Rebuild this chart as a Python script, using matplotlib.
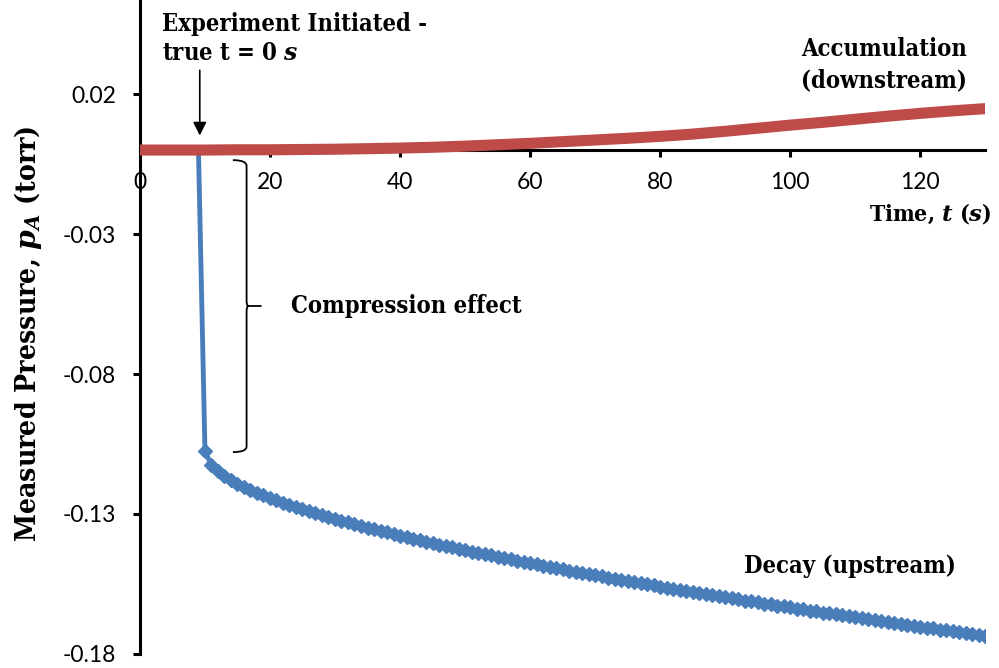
import matplotlib.pyplot as plt
from matplotlib.path import Path
from matplotlib.patches import PathPatch

plt.rcParams['mathtext.fontset'] = 'custom'
plt.rcParams['mathtext.it'] = 'DejaVu Serif:italic:bold'
plt.rcParams['mathtext.rm'] = 'DejaVu Serif:bold'

# upstream (decay) series, 1 s steps
t_up = list(range(0, 10)) + list(range(10, 131))
p_up = [0.0] * 10 + [
    -0.1075, -0.1126, -0.1148, -0.1164, -0.1179, -0.1192, -0.1203, -0.1214, -0.1224, -0.1233,
    -0.1243, -0.1251, -0.1259, -0.1268, -0.1275, -0.1283, -0.1290, -0.1297, -0.1304, -0.1311,
    -0.1317, -0.1324, -0.1330, -0.1336, -0.1343, -0.1349, -0.1354, -0.1360, -0.1366, -0.1372,
    -0.1377, -0.1383, -0.1388, -0.1393, -0.1399, -0.1404, -0.1409, -0.1414, -0.1419, -0.1424,
    -0.1429, -0.1434, -0.1439, -0.1443, -0.1448, -0.1453, -0.1457, -0.1462, -0.1467, -0.1471,
    -0.1476, -0.1480, -0.1484, -0.1489, -0.1493, -0.1498, -0.1502, -0.1506, -0.1510, -0.1515,
    -0.1519, -0.1523, -0.1527, -0.1531, -0.1535, -0.1539, -0.1543, -0.1547, -0.1551, -0.1555,
    -0.1559, -0.1563, -0.1567, -0.1571, -0.1575, -0.1579, -0.1582, -0.1586, -0.1590, -0.1594,
    -0.1597, -0.1601, -0.1605, -0.1609, -0.1612, -0.1616, -0.1620, -0.1623, -0.1627, -0.1630,
    -0.1634, -0.1638, -0.1641, -0.1645, -0.1648, -0.1652, -0.1655, -0.1659, -0.1662, -0.1666,
    -0.1669, -0.1672, -0.1676, -0.1679, -0.1683, -0.1686, -0.1689, -0.1693, -0.1696, -0.1699,
    -0.1703, -0.1706, -0.1709, -0.1713, -0.1716, -0.1719, -0.1723, -0.1726, -0.1729, -0.1732,
    -0.1736]

# downstream (accumulation) series, 5 s steps
t_down = list(range(0, 131, 5))
p_down = [0.0, 0.0, 0.0, 0.0001, 0.0001, 0.0002, 0.0003, 0.0005, 0.0007, 0.0010, 0.0014,
          0.0019, 0.0024, 0.0030, 0.0036, 0.0042, 0.0049, 0.0057, 0.0067, 0.0078, 0.0089,
          0.0099, 0.0110, 0.0121, 0.0131, 0.0140, 0.0148]

yticks = [0.02, -0.03, -0.08, -0.13, -0.18]
xticks = [0, 20, 40, 60, 80, 100, 120]

fig = plt.figure(figsize=(9.99, 6.68), dpi=100)
ax = fig.add_axes([0.1401, 0.021, 0.846, 0.979])

ax.plot(t_up, p_up, color='#4A7EBB', lw=3.5, marker='D', ms=7,
        markevery=list(range(10, len(t_up))), zorder=2)
ax.plot(t_up[:10], p_up[:10], color='#4A7EBB', lw=1.5, ls=':', zorder=2)
ax.plot(t_down, p_down, color='#BE4B48', lw=8, zorder=3)

ax.set_xlim(0, 130)
ax.set_ylim(-0.18, 0.0536)

ax.spines['top'].set_visible(False)
ax.spines['right'].set_visible(False)
ax.spines['bottom'].set_position(('data', 0))
ax.spines['left'].set_linewidth(2.2)
ax.spines['bottom'].set_linewidth(2.2)

tickfont = 'Lato'
ax.set_xticks(xticks)
ax.set_xticklabels([str(v) for v in xticks], fontfamily=tickfont, fontsize=16.5)
ax.set_yticks(yticks)
ax.set_yticklabels(['%.2f' % v for v in yticks], fontfamily=tickfont, fontsize=16.5)
ax.tick_params(axis='both', direction='out', length=5, width=2.2)
ax.tick_params(axis='x', pad=11)
ax.tick_params(axis='y', pad=12)

serif = dict(fontfamily='DejaVu Serif', fontweight='bold', fontstretch='condensed',
             color='black')

fig.text(0.028, 0.50, r'Measured Pressure, $p_A$ (torr)', rotation=90,
         ha='center', va='center', fontsize=20.3, **serif)
ax.text(130.9, -0.0227, r'Time, $t$ ($s$)', ha='right', va='center', fontsize=16.5, **serif)

ax.text(3.4, 0.0452, 'Experiment Initiated -', ha='left', va='center', fontsize=17, **serif)
ax.text(3.4, 0.0345, r'true t = 0 $s$', ha='left', va='center', fontsize=17, **serif)
ax.annotate('', xy=(9.2, 0.0042), xytext=(9.2, 0.0295),
            arrowprops=dict(arrowstyle='-|>', color='black', lw=1.2, mutation_scale=20))

ax.text(114.5, 0.0362, 'Accumulation', ha='center', va='center', fontsize=17, **serif)
ax.text(114.5, 0.0248, '(downstream)', ha='center', va='center', fontsize=17, **serif)
ax.text(109.2, -0.1487, 'Decay (upstream)', ha='center', va='center', fontsize=17, **serif)
ax.text(23.3, -0.0557, 'Compression effect', ha='left', va='center', fontsize=17, **serif)

# curly brace
xa, xb, xc = 14.3, 16.4, 18.7
ytop, ymid, ybot = -0.0036, -0.0557, -0.1079
verts = [(xa, ytop), (xb, ytop), (xb, ytop - 0.002),
         (xb, ymid + 0.002), (xb, ymid), (xb + 0.3, ymid), (xc, ymid),
         (xb + 0.3, ymid), (xb, ymid), (xb, ymid - 0.002),
         (xb, ybot + 0.002), (xb, ybot), (xa, ybot)]
codes = [Path.MOVETO, Path.CURVE3, Path.CURVE3,
         Path.LINETO, Path.CURVE3, Path.CURVE3, Path.LINETO,
         Path.MOVETO, Path.CURVE3, Path.CURVE3,
         Path.LINETO, Path.CURVE3, Path.CURVE3]
ax.add_patch(PathPatch(Path(verts, codes), fill=False, lw=1.3, color='black'))

fig.savefig('out.png', dpi=100)
